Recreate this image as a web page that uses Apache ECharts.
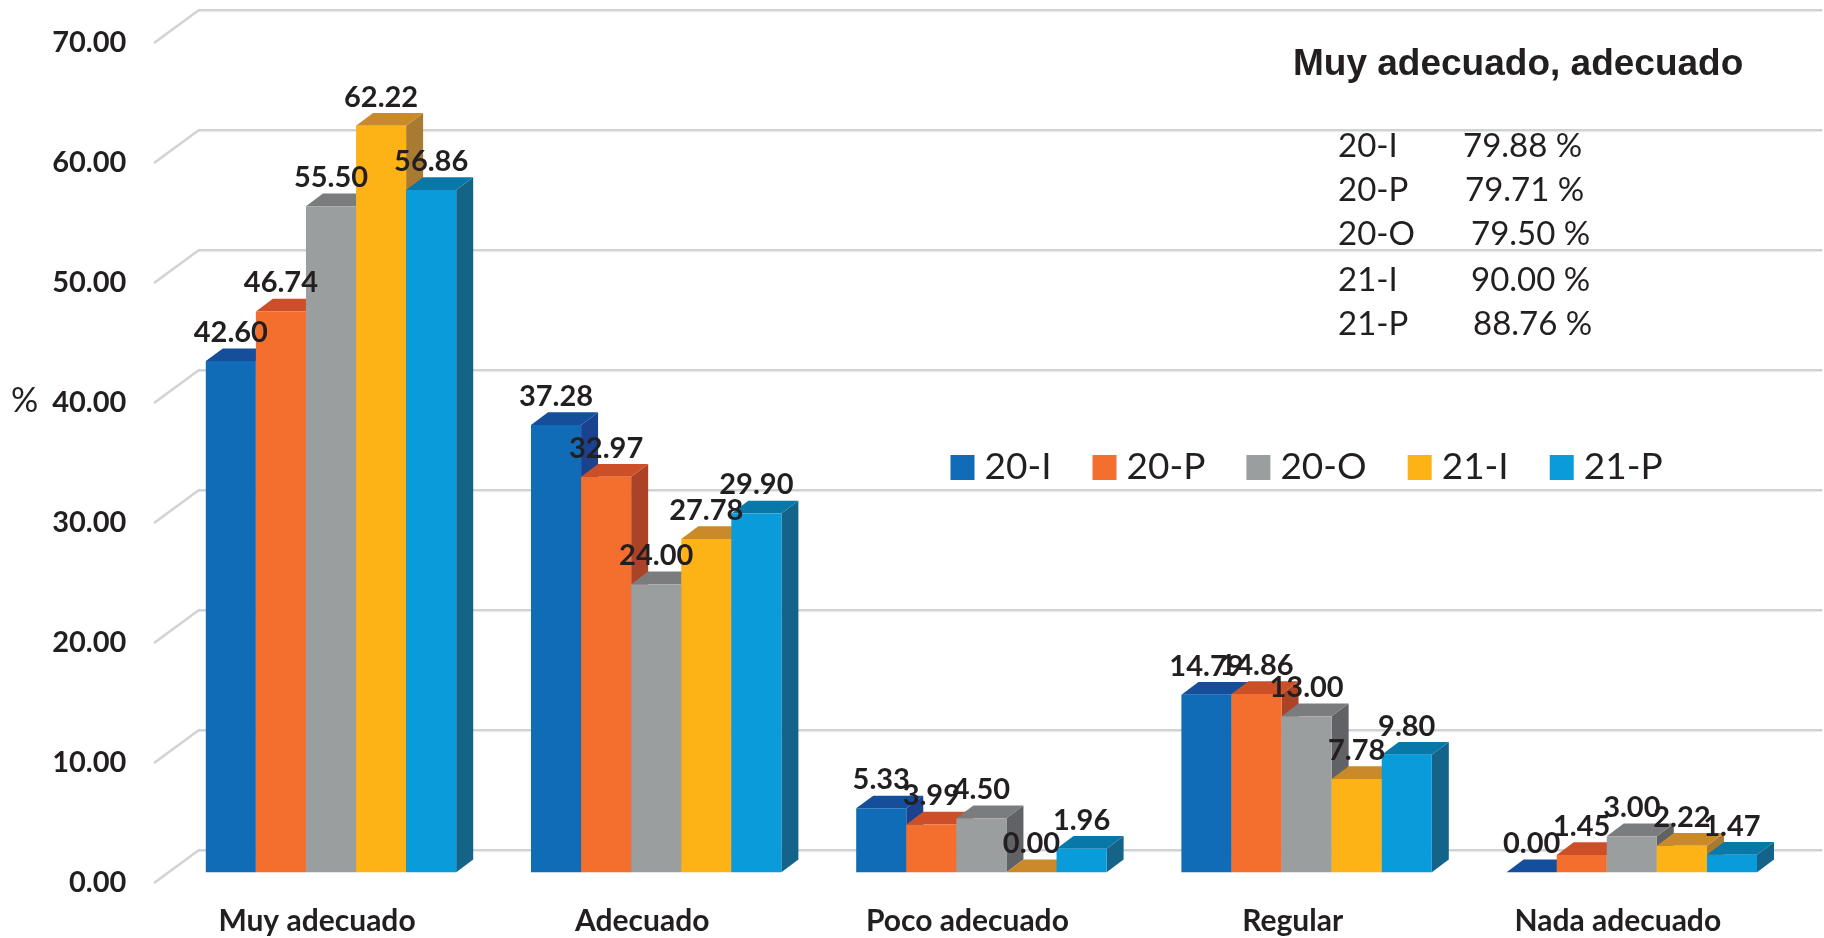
<!DOCTYPE html>
<html><head><meta charset="utf-8">
<style>html,body{margin:0;padding:0;background:#fff}#c{width:1824px;height:938px}</style>
<script src="https://cdn.jsdelivr.net/npm/echarts@6/dist/echarts.min.js"></script>
</head><body><div id="c"></div>
<script>
const categories = ['Muy adecuado','Adecuado','Poco adecuado','Regular','Nada adecuado'];
const periods = ['20-I','20-P','20-O','21-I','21-P'];
const s20I = [42.60,37.28,5.33,14.79,0.00];
const s20P = [46.74,32.97,3.99,14.86,1.45];
const s20O = [55.50,24.00,4.50,13.00,3.00];
const s21I = [62.22,27.78,0.00,7.78,2.22];
const s21P = [56.86,29.90,1.96,9.80,1.47];
const yTicks = [0,10,20,30,40,50,60,70];
const summaryTitle = 'Muy adecuado, adecuado';
const summaryValues = ['79.88 %','79.71 %','79.50 %','90.00 %','88.76 %'];
const summaryValueX = [1463,1465,1471,1471,1473];
const summaryRowY = [149,193,237,283,327];

const allSeries = [s20I,s20P,s20O,s21I,s21P];
const frontColors = ['#106CB7','#F46F2D','#9B9E9F','#FDB316','#0A9BDB'];
const topColors   = ['#154F9C','#CD4F28','#7B7C7E','#CB8A2A','#0878A8'];
const sideColors  = ['#1B428F','#AB4427','#616265','#A87A32','#14648A'];
const ink = '#231F20';
const sans = 'Lato, "Open Sans", sans-serif';
const depthX = 17, depthY = 12.7, barRatio = 0.154;

const chart = echarts.init(document.getElementById('c'), null, {renderer:'canvas'});

function wallItem(params, api){
  const cs = params.coordSys;
  const p = api.coord([0, api.value(0)]);
  return {type:'polyline', silent:true,
    shape:{points:[[cs.x-14.4,p[1]+10.7],[cs.x+30.3,p[1]-22],[cs.x+cs.width+28,p[1]-22]]},
    style:{stroke:'#D1D2D4',lineWidth:2.4,fill:null}};
}
function barRenderer(si){
  return function(params, api){
    const cat = api.value(0), val = api.value(1);
    const c = api.coord([cat,val]), b = api.coord([cat,0]);
    const w = api.size([1,0])[0]*barRatio;
    const x = c[0]+(si-2.5)*w, y = c[1], base = b[1];
    const z = si*3;
    return {type:'group',children:[
      {type:'polygon',silent:true,z2:z,shape:{points:[[x+w,y],[x+w+depthX,y-depthY],[x+w+depthX,base-depthY],[x+w,base]]},style:{fill:sideColors[si]}},
      {type:'polygon',silent:true,z2:z+1,shape:{points:[[x,y],[x+depthX,y-depthY],[x+w+depthX,y-depthY],[x+w,y]]},style:{fill:topColors[si]}},
      {type:'rect',silent:true,z2:z+2,shape:{x:x,y:y,width:w,height:base-y},style:{fill:frontColors[si]}},
      {type:'text',silent:true,z2:100,style:{x:x+w/2,y:y-28.5,text:val.toFixed(2),align:'center',verticalAlign:'middle',fill:ink,font:'bold 29px '+sans}}
    ]};
  };
}
const series = [{
  type:'custom',name:'walls',coordinateSystem:'cartesian2d',silent:true,z:1,
  data:yTicks.map(v=>[v]),encode:{y:0},renderItem:wallItem,clip:false
}];
periods.forEach((name,si)=>{
  series.push({type:'custom',name:name,coordinateSystem:'cartesian2d',z:2,clip:false,
    itemStyle:{color:frontColors[si]},
    data:allSeries[si].map((v,i)=>[i,v]),encode:{x:0,y:1},renderItem:barRenderer(si)});
});

const graphic = [
  {type:'text',left:1293,top:46.5,style:{text:summaryTitle,fill:ink,font:'bold 37px "Liberation Sans", Arial, sans-serif'}},
  {type:'text',left:11,top:384,style:{text:'%',fill:ink,font:'34px '+sans}}
];
periods.forEach((p,i)=>{
  graphic.push({type:'text',left:1338,top:summaryRowY[i]-19,style:{text:p,fill:ink,font:'33px '+sans}});
  graphic.push({type:'text',left:summaryValueX[i],top:summaryRowY[i]-19,style:{text:summaryValues[i],fill:ink,font:'33px '+sans}});
});

chart.setOption({
  animation:false,backgroundColor:'#fff',
  grid:{left:168.4,top:32.3,width:1626,height:840,containLabel:false},
  legend:{data:periods,left:945.5,top:444,icon:'rect',itemWidth:24,itemHeight:25,itemGap:41,selectedMode:false,
    textStyle:{color:ink,fontFamily:sans,fontSize:37,padding:[0,0,0,5]}},
  xAxis:{type:'category',data:categories,axisLine:{show:false},axisTick:{show:false},splitLine:{show:false},
    axisLabel:{color:ink,fontFamily:sans,fontWeight:'bold',fontSize:30,margin:34,padding:[0,28,0,0],interval:0}},
  yAxis:{type:'value',min:0,max:70,interval:10,axisLine:{show:false},axisTick:{show:false},splitLine:{show:false},
    axisLabel:{color:ink,fontFamily:sans,fontWeight:'bold',fontSize:29,margin:42,verticalAlign:'top',lineHeight:21,formatter:v=>v.toFixed(2)}},
  graphic:graphic,
  series:series
});
</script></body></html>
